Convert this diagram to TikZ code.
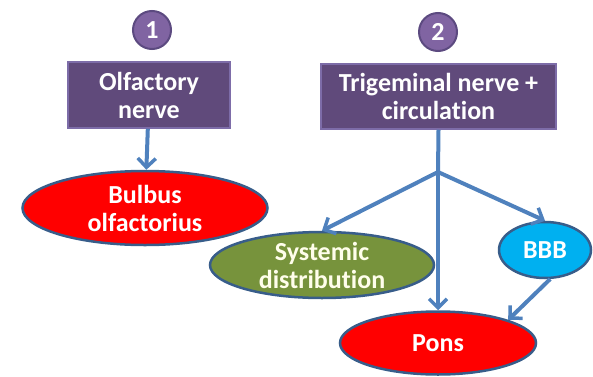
\documentclass[tikz,border=0pt]{standalone}
\usepackage{fontspec}
\setmainfont{Carlito}[Ligatures=NoCommon]
\usepackage{tikz}
\usetikzlibrary{arrows.meta,shapes.geometric,positioning}
\definecolor{boxpurple}{HTML}{604A7B}
\definecolor{boxedge}{HTML}{7D6CA8}
\definecolor{numpurple}{HTML}{8064A2}
\definecolor{numedge}{HTML}{5C4A80}
\definecolor{arrowblue}{HTML}{4F81BD}
\definecolor{ovaledge}{HTML}{385D8A}
\definecolor{ovalred}{HTML}{FF0000}
\definecolor{ovalgreen}{HTML}{77933C}
\definecolor{ovalcyan}{HTML}{00B0F0}
\tikzset{
    %Define standard arrow tip
    >={Straight Barb[length=9pt,width=18pt,line width=3.5pt]},
    %Define style for number circles
    numcirc/.style={
           circle,
           draw=numedge, line width=2pt,
           fill=numpurple,
           minimum size=38pt,
           inner sep=0pt,
           font=\fontsize{26}{28}\selectfont\bfseries,
           text=white},
    %Define style for boxes
    nervebox/.style={
           rectangle,
           draw=boxedge, line width=1.5pt,
           fill=boxpurple,
           align=center,
           font=\fontsize{26}{28}\selectfont\bfseries,
           text=white},
    %Define style for ovals
    oval/.style={
           ellipse,
           draw=ovaledge, line width=2.5pt,
           inner sep=0pt,
           align=center,
           font=\fontsize{26}{28}\selectfont\bfseries,
           text=white},
    % Define arrow style
    pil/.style={
           ->,
           draw=arrowblue,
           line width=4pt},
    stem/.style={
           draw=arrowblue,
           line width=4pt}
}
\begin{document}
\begin{tikzpicture}[x=1pt,y=1pt]
\useasboundingbox (0,0) rectangle (593,376);
 %nodes
\node[numcirc] (n1) at (152,346) {1};
\node[nervebox, minimum width=162pt, minimum height=66pt] (olf) at (149,281) {Olfactory\\nerve};
\node[oval, fill=ovalred, minimum width=245pt, minimum height=74pt] (bulb) at (145,168) {Bulbus\\olfactorius};
\node[numcirc] (n2) at (438,344) {2};
\node[nervebox, minimum width=235pt, minimum height=65pt] (trig) at (438.5,279.5) {Trigeminal nerve +\\circulation};
\coordinate (split) at (438,204);
\node[oval, fill=ovalgreen, minimum width=224pt, minimum height=66pt, text=white!92!yellow] (sys) at (322,111) {Systemic\\distribution};
\node[oval, fill=ovalcyan, minimum width=92pt, minimum height=56pt] (bbb) at (545,126) {BBB};
\node[oval, fill=ovalred, minimum width=196pt, minimum height=63pt] (pons) at (438,33) {Pons};
 %arrows
\draw[pil] (olf) -- (bulb);
\draw[stem] (trig.south) -- (split);
\draw[pil] (split) -- (sys.north);
\draw[pil] (split) -- (bbb.north);
\draw[pil] (split) -- (pons.north);
\draw[pil] (bbb.-80) -- (pons.north east);
\end{tikzpicture}
\end{document}
